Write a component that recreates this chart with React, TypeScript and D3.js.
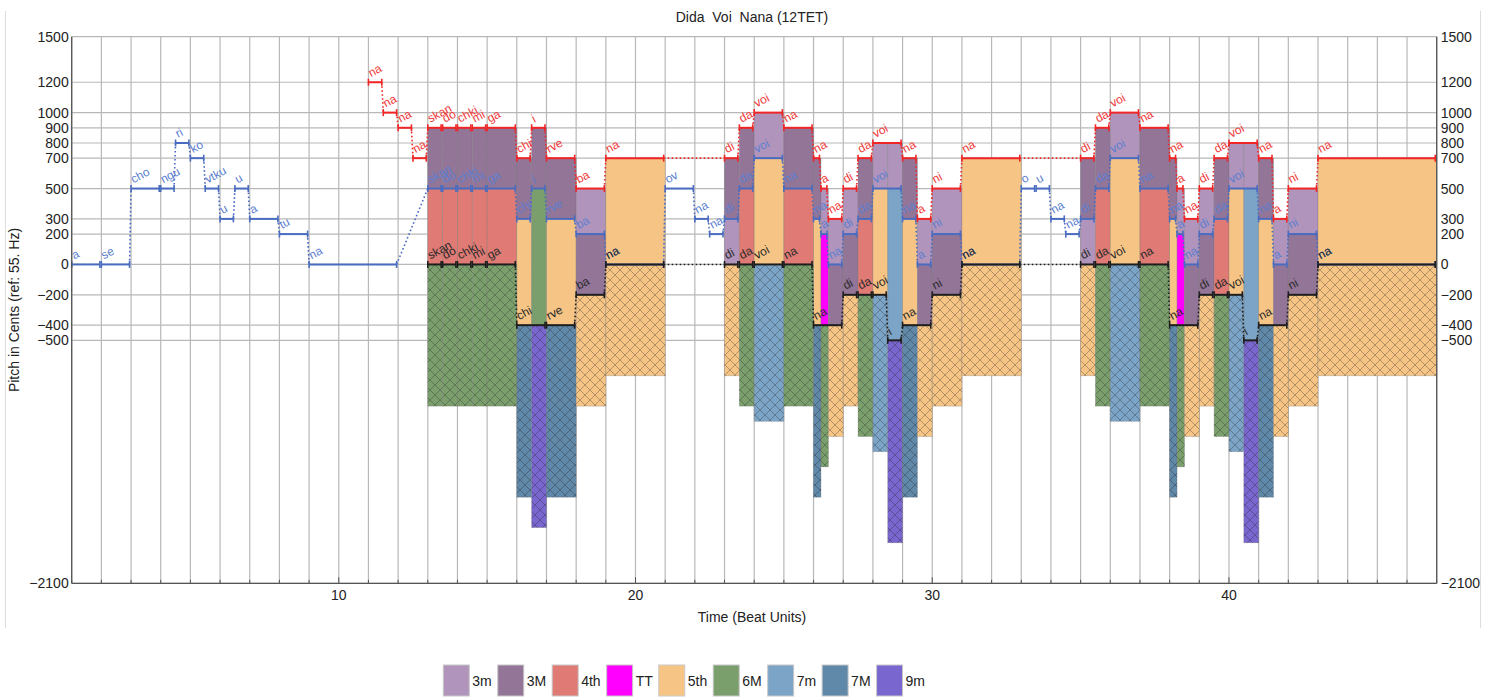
import React from "react";
import * as d3 from "d3";

type Note = [number, number, number, string];

const titleText = "Dida  Voi  Nana (12TET)";
const xLabel = "Time (Beat Units)";
const yLabel = "Pitch in Cents (ref: 55. Hz)";

const xTicks = [10, 20, 30, 40];
const yTicks = [1500, 1200, 1000, 900, 800, 700, 500, 300, 200, 0, -200, -400, -500, -2100];

const blueVoice: Note[] = [
  [1, 2, 0, "a"], [2, 3, 0, "se"], [3, 4, 500, "cho"], [4, 4.5, 500, "ngu"],
  [4.5, 5, 800, "ri"], [5, 5.5, 700, "ko"], [5.5, 6, 500, "vtku"], [6, 6.5, 300, "u"],
  [6.5, 7, 500, "u"], [7, 8, 300, "a"], [8, 9, 200, "tu"], [9, 12, 0, "na"],
  [13, 13.5, 500, "skan"], [13.5, 14, 500, "do"], [14, 14.5, 500, "chki"], [14.5, 15, 500, "mi"],
  [15, 16, 500, "ga"], [16, 16.5, 300, "chi"], [16.5, 17, 500, "i"], [17, 18, 300, "rve"],
  [18, 19, 200, "ba"], [19, 21, 0, "na"], [21, 22, 500, "ov"], [22, 22.5, 300, "na"],
  [22.5, 23, 200, "na"], [23, 23.5, 300, "di"], [23.5, 24, 500, "da"], [24, 25, 700, "voi"],
  [25, 26, 500, "na"], [26, 26.25, 300, "na"], [26.25, 26.5, 200, "a"], [26.5, 27, 0, "na"],
  [27, 27.5, 200, "di"], [27.5, 28, 300, "da"], [28, 29, 500, "voi"], [29, 29.5, 300, "na"],
  [29.5, 30, 0, "a"], [30, 31, 200, "ni"], [31, 33, 0, "na"], [33, 33.5, 500, "o"],
  [33.5, 34, 500, "u"], [34, 34.5, 300, "na"], [34.5, 35, 200, "na"], [35, 35.5, 300, "di"],
  [35.5, 36, 500, "da"], [36, 37, 700, "voi"], [37, 38, 500, "na"], [38, 38.25, 300, "na"],
  [38.25, 38.5, 200, "a"], [38.5, 39, 0, "na"], [39, 39.5, 200, "di"], [39.5, 40, 300, "da"],
  [40, 41, 500, "voi"], [41, 41.5, 300, "na"], [41.5, 42, 0, "a"], [42, 43, 200, "ni"],
  [43, 47, 0, "na"],
];

const redVoice: Note[] = [
  [11, 11.5, 1200, "na"], [11.5, 12, 1000, "na"], [12, 12.5, 900, "na"], [12.5, 13, 700, "na"],
  [13, 13.5, 900, "skan"], [13.5, 14, 900, "do"], [14, 14.5, 900, "chki"], [14.5, 15, 900, "mi"],
  [15, 16, 900, "ga"], [16, 16.5, 700, "chi"], [16.5, 17, 900, "i"], [17, 18, 700, "rve"],
  [18, 19, 500, "ba"], [19, 21, 700, "na"], [23, 23.5, 700, "di"], [23.5, 24, 900, "da"],
  [24, 25, 1000, "voi"], [25, 26, 900, "na"], [26, 26.25, 700, "na"], [26.25, 26.5, 500, "a"],
  [26.5, 27, 300, "na"], [27, 27.5, 500, "di"], [27.5, 28, 700, "da"], [28, 29, 800, "voi"],
  [29, 29.5, 700, "na"], [29.5, 30, 300, "a"], [30, 31, 500, "ni"], [31, 33, 700, "na"],
  [35, 35.5, 700, "di"], [35.5, 36, 900, "da"], [36, 37, 1000, "voi"], [37, 38, 900, "na"],
  [38, 38.25, 700, "na"], [38.25, 38.5, 500, "a"], [38.5, 39, 300, "na"], [39, 39.5, 500, "di"],
  [39.5, 40, 700, "da"], [40, 41, 800, "voi"], [41, 41.5, 700, "na"], [41.5, 42, 300, "a"],
  [42, 43, 500, "ni"], [43, 47, 700, "na"],
];

const blackVoice: Note[] = [
  [13, 13.5, 0, "skan"], [13.5, 14, 0, "do"], [14, 14.5, 0, "chki"], [14.5, 15, 0, "mi"],
  [15, 16, 0, "ga"], [16, 17, -400, "chi"], [17, 18, -400, "rve"], [18, 19, -200, "ba"],
  [19, 21, 0, "na"], [23, 23.5, 0, "di"], [23.5, 24, 0, "da"], [24, 25, 0, "voi"],
  [25, 26, 0, "na"], [26, 27, -400, "na"], [27, 27.5, -200, "di"], [27.5, 28, -200, "da"],
  [28, 28.5, -200, "voi"], [28.5, 29, -500, "i"], [29, 30, -400, "na"], [30, 31, -200, "ni"],
  [31, 33, 0, "na"], [35, 35.5, 0, "di"], [35.5, 36, 0, "da"], [36, 37, 0, "voi"],
  [37, 38, 0, "na"], [38, 39, -400, "na"], [39, 39.5, -200, "di"], [39.5, 40, -200, "da"],
  [40, 40.5, -200, "voi"], [40.5, 41, -500, "i"], [41, 42, -400, "na"], [42, 43, -200, "ni"],
  [43, 47, 0, "na"],
];

const intervalCents = [300, 400, 500, 600, 700, 900, 1000, 1100, 1300];
const intervalNames = ["3m", "3M", "4th", "TT", "5th", "6M", "7m", "7M", "9m"];
const intervalColors = ["#b194bb", "#937598", "#df7a74", "#ff00ff", "#f6c586", "#7b9f6c", "#7ca4c6", "#6088a8", "#7a66cf"];

const W = 1501;
const H = 697;
const FONT = "'Liberation Sans', Arial, Helvetica, sans-serif";
const HATCH_EXTRA = 33;

const x = d3.scaleLinear().domain([1, 47]).range([71.7, 1436.7]);
const y = d3.scaleLinear().domain([-2100, 1500]).range([583.3, 36.7]);

function pitchAt(voice: Note[], t: number): number | null {
  for (const n of voice) if (n[0] <= t && t < n[1]) return n[2];
  return null;
}
function colorOf(iv: number): string | null {
  const i = intervalCents.indexOf(iv);
  return i >= 0 ? intervalColors[i] : null;
}

function measure(text: string, size: number): number {
  if (typeof document === "undefined") return text.length * size * 0.55;
  const c = document.createElement("canvas").getContext("2d");
  if (!c) return text.length * size * 0.55;
  c.font = `${size}px 'Liberation Sans', Arial`;
  return c.measureText(text).width;
}

function Voice({ notes, line, label }: { notes: Note[]; line: string; label: string }) {
  const els: React.ReactNode[] = [];
  notes.forEach((n, i) => {
    const x0 = x(n[0]);
    const x1 = x(n[1]) - 1.5;
    const yy = y(n[2]);
    els.push(<line key={`l${i}`} x1={x0} x2={x1} y1={yy} y2={yy} stroke={line} strokeWidth={2} />);
    els.push(<line key={`a${i}`} x1={x0} x2={x0} y1={yy - 3.5} y2={yy + 3.5} stroke={line} strokeWidth={1.6} />);
    els.push(<line key={`b${i}`} x1={x1} x2={x1} y1={yy - 3.5} y2={yy + 3.5} stroke={line} strokeWidth={1.6} />);
    if (i < notes.length - 1) {
      const m = notes[i + 1];
      if (!(m[0] === n[1] && m[2] === n[2])) {
        els.push(
          <line key={`c${i}`} x1={x1} y1={yy} x2={x(m[0])} y2={y(m[2])} stroke={line}
            strokeWidth={1.6} strokeDasharray="1.6,2.4" />
        );
      }
    }
  });
  const labels = notes.map((n, i) => (
    <text key={`t${i}`} x={0} y={0} fontSize={12} fill={label} fontFamily={FONT}
      transform={`translate(${x(n[0]) + 2.5},${y(n[2]) - 5}) rotate(-28)`}>
      {n[3]}
    </text>
  ));
  return (
    <g>
      {els}
      {labels}
    </g>
  );
}

export default function App() {
  const bps = Array.from(
    new Set([...blueVoice, ...redVoice, ...blackVoice].flatMap((n) => [n[0], n[1]]))
  ).sort((a, b) => a - b);

  const rects: React.ReactNode[] = [];
  const hatches: React.ReactNode[] = [];
  for (let i = 0; i < bps.length - 1; i++) {
    const a = bps[i], b = bps[i + 1];
    const mid = (a + b) / 2;
    const r = pitchAt(redVoice, mid);
    const bl = pitchAt(blueVoice, mid);
    const k = pitchAt(blackVoice, mid);
    if (r === null || bl === null || k === null) continue;
    const xa = x(a), xb = x(b);
    const cu = colorOf(r - bl);
    if (cu) rects.push(<rect key={`u${i}`} x={xa} width={xb - xa} y={y(r)} height={y(bl) - y(r)} fill={cu} stroke="rgba(110,110,110,0.35)" strokeWidth={0.8} />);
    const cl = colorOf(bl - k);
    if (cl) rects.push(<rect key={`d${i}`} x={xa} width={xb - xa} y={y(bl)} height={y(k) - y(bl)} fill={cl} stroke="rgba(110,110,110,0.35)" strokeWidth={0.8} />);
    const ch = colorOf(r - k);
    if (ch) {
      const yb = y(k - (r - k) - HATCH_EXTRA);
      hatches.push(
        <g key={`h${i}`}>
          <rect x={xa} width={xb - xa} y={y(k)} height={yb - y(k)} fill={ch} stroke="rgba(110,110,110,0.35)" strokeWidth={0.8} />
          <rect x={xa} width={xb - xa} y={y(k)} height={yb - y(k)} fill="url(#hatch)" />
        </g>
      );
    }
  }

  const xGrid = d3.range(1, 48);
  const fmt = (v: number) => (v < 0 ? "\u2212" + Math.abs(v) : String(v));

  let lx = 443.3;
  const legend = intervalNames.map((name, i) => {
    const bx = lx;
    lx += 26 + 3 + measure(name, 14) + 6;
    return (
      <g key={name}>
        <rect x={bx} y={665} width={26} height={31} fill={intervalColors[i]} stroke="#c8c8c8" strokeWidth={1} />
        <text x={bx + 29} y={686} fontSize={14} fontFamily={FONT} fill="#222">{name}</text>
      </g>
    );
  });

  const left = x(1), right = x(47), top = y(1500), bottom = y(-2100);

  return (
    <svg width={W} height={H} style={{ position: "absolute", left: 0, top: 0, background: "#fff" }}>
      <defs>
        <pattern id="hatch" patternUnits="userSpaceOnUse" width={10} height={10}>
          <path d="M0,0 L10,10 M10,0 L0,10 M-5,5 L5,15 M5,-5 L15,5 M-5,5 L5,-5 M5,15 L15,5"
            stroke="rgba(30,30,30,0.45)" strokeWidth={0.7} fill="none" />
        </pattern>
      </defs>
      <line x1={5.5} x2={5.5} y1={11} y2={628} stroke="#ddd" />
      <line x1={1480.5} x2={1480.5} y1={11} y2={628} stroke="#ddd" />
      <text x={752} y={22} textAnchor="middle" fontSize={14} fontFamily={FONT} fill="#222" style={{ whiteSpace: "pre" }}>{titleText}</text>
      <g>
        {xGrid.map((v) => (
          <line key={`gx${v}`} x1={x(v)} x2={x(v)} y1={top} y2={bottom} stroke="#b8b8b8" strokeWidth={1.2} />
        ))}
        {yTicks.map((v) => (
          <line key={`gy${v}`} x1={left} x2={right} y1={y(v)} y2={y(v)} stroke="#b8b8b8" strokeWidth={1.2} />
        ))}
      </g>
      {rects}
      {hatches}
      <Voice notes={blueVoice} line="#4a6cc0" label="#5c7fd0" />
      <Voice notes={redVoice} line="#f02525" label="#f03a3a" />
      <Voice notes={blackVoice} line="#1e1e1e" label="#2a2a2a" />
      <g>
        <line x1={left} x2={left} y1={top} y2={bottom} stroke="#555" strokeWidth={1.3} />
        <line x1={right} x2={right} y1={top} y2={bottom} stroke="#555" strokeWidth={1.3} />
        <line x1={left} x2={right} y1={bottom} y2={bottom} stroke="#555" strokeWidth={1.3} />
        {xGrid.map((v) => (
          <line key={`tx${v}`} x1={x(v)} x2={x(v)} y1={bottom} y2={bottom - (v % 10 === 0 ? 6 : 3.5)} stroke="#555" strokeWidth={1} />
        ))}
        {yTicks.map((v) => (
          <g key={`ty${v}`}>
            <text x={left - 3} y={y(v)} dy="0.36em" textAnchor="end" fontSize={14} fontFamily={FONT} fill="#222">{fmt(v)}</text>
            <text x={right + 4} y={y(v)} dy="0.36em" textAnchor="start" fontSize={14} fontFamily={FONT} fill="#222">{fmt(v)}</text>
          </g>
        ))}
        {xTicks.map((v) => (
          <text key={`lx${v}`} x={x(v)} y={600} textAnchor="middle" fontSize={14} fontFamily={FONT} fill="#222">{v}</text>
        ))}
      </g>
      <text x={752} y={622} textAnchor="middle" fontSize={14} fontFamily={FONT} fill="#222">{xLabel}</text>
      <text transform={`translate(19,${(top + bottom) / 2}) rotate(-90)`} textAnchor="middle" fontSize={14} fontFamily={FONT} fill="#222">{yLabel}</text>
      {legend}
    </svg>
  );
}
